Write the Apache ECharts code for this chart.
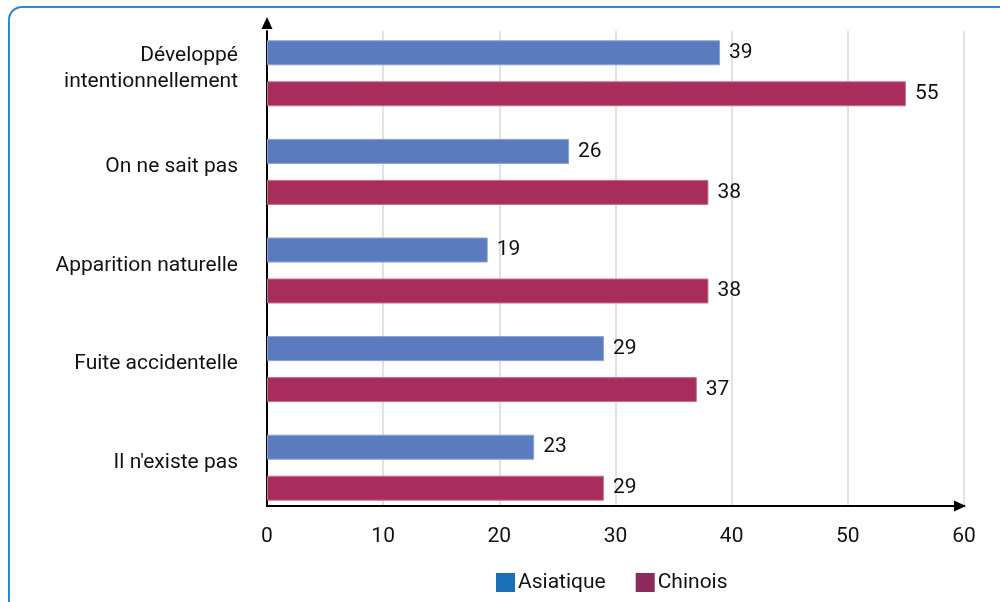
<!DOCTYPE html>
<html>
<head>
<meta charset="utf-8">
<script src="https://cdn.jsdelivr.net/npm/echarts@6/dist/echarts.min.js"></script>
<style>
html,body{margin:0;padding:0;background:#fff;}
#frame{position:absolute;left:8px;top:6px;width:1100px;height:700px;border:2.5px solid #2b88cd;border-top-left-radius:14px;box-sizing:border-box;}
#main{position:absolute;left:0;top:0;width:1000px;height:602px;}
</style>
</head>
<body>
<div id="frame"></div>
<div id="main"></div>
<script>
const categories = ["Développé\nintentionnellement", "On ne sait pas", "Apparition naturelle", "Fuite accidentelle", "Il n'existe pas"];
const asiatique = [39, 26, 19, 29, 23];
const chinois = [55, 38, 38, 37, 29];
const xTicks = { min: 0, max: 60, interval: 10 };

const FONT = 'Roboto, "Liberation Sans", sans-serif';
const chart = echarts.init(document.getElementById('main'));
chart.setOption({
  animation: false,
  textStyle: { fontFamily: FONT },
  grid: [
    { left: 267, right: 36, top: 24, bottom: 85 },
    { left: 267, right: 36, top: 31, bottom: 96 }
  ],
  legend: {
    left: 491, top: 567,
    itemWidth: 19, itemHeight: 19, itemGap: 30,
    icon: 'rect',
    textStyle: { fontFamily: FONT, fontSize: 21, color: '#111', padding: [0, 0, 0, -2] },
    data: [
      { name: 'Asiatique', itemStyle: { color: '#1b6fb7', borderWidth: 0 } },
      { name: 'Chinois', itemStyle: { color: '#8a2b5b', borderWidth: 0 } }
    ]
  },
  xAxis: [
    { gridIndex: 0, type: 'value', min: xTicks.min, max: xTicks.max, interval: xTicks.interval, show: false },
    { gridIndex: 1, type: 'value', min: xTicks.min, max: xTicks.max, interval: xTicks.interval,
      axisLine: { show: true, lineStyle: { color: '#000', width: 2 }, symbol: ['none', 'triangle'], symbolSize: [11, 12], symbolOffset: [0, -4] },
      axisTick: { show: false },
      axisLabel: { fontFamily: FONT, fontSize: 21, color: '#111', margin: 20 },
      splitLine: { show: true, lineStyle: { color: '#d9d9d9', width: 1.5 } }
    }
  ],
  yAxis: [
    { gridIndex: 0, type: 'category', inverse: true, data: categories,
      axisLine: { show: false }, axisTick: { show: false },
      axisLabel: {
        margin: 29, align: 'right',
        formatter: function (v) {
          return v.split('\n').map(function (s) { return '{a|' + s + '}'; }).join('\n') + '\n{b|}';
        },
        rich: {
          a: { fontFamily: FONT, fontSize: 21, color: '#111', lineHeight: 26, align: 'right' },
          b: { fontSize: 1, lineHeight: 10 }
        }
      }
    },
    { gridIndex: 1, type: 'value', min: 0, max: 1,
      axisLine: { show: true, lineStyle: { color: '#000', width: 2 }, symbol: ['none', 'triangle'], symbolSize: [11, 12], symbolOffset: [0, 8] },
      axisTick: { show: false }, axisLabel: { show: false }, splitLine: { show: false }
    }
  ],
  series: [
    { name: 'Asiatique', type: 'bar', xAxisIndex: 0, yAxisIndex: 0, data: asiatique,
      barWidth: 25, barGap: '64%',
      itemStyle: { color: '#5b7bc0', borderColor: '#8aa2d6', borderWidth: 1 },
      label: { show: true, position: 'right', distance: 9, fontFamily: FONT, fontSize: 21, color: '#111' }
    },
    { name: 'Chinois', type: 'bar', xAxisIndex: 0, yAxisIndex: 0, data: chinois,
      barWidth: 25, barGap: '64%',
      itemStyle: { color: '#a82d5c', borderColor: '#c57090', borderWidth: 1 },
      label: { show: true, position: 'right', distance: 9, fontFamily: FONT, fontSize: 21, color: '#111' }
    }
  ]
});
</script>
</body>
</html>
